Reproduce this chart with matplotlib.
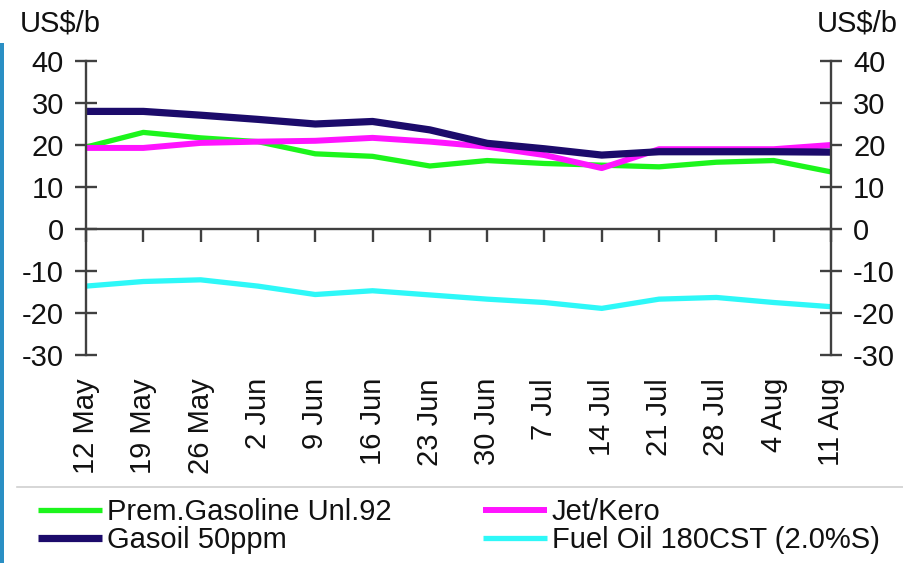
import matplotlib
matplotlib.use('Agg')
from matplotlib import pyplot as plt
from matplotlib.lines import Line2D
from matplotlib.patches import Rectangle

plt.rcParams['font.family'] = ['Liberation Sans', 'DejaVu Sans']

weeks = ['12 May', '19 May', '26 May', '2 Jun', '9 Jun', '16 Jun', '23 Jun',
         '30 Jun', '7 Jul', '14 Jul', '21 Jul', '28 Jul', '4 Aug', '11 Aug']
gasoline = [19.5, 23.0, 21.7, 20.8, 17.9, 17.3, 15.0, 16.3, 15.6, 15.2, 14.8, 15.9, 16.3, 13.6]
jet_kero = [19.3, 19.3, 20.5, 20.8, 21.0, 21.7, 20.8, 19.6, 17.6, 14.5, 19.0, 19.0, 19.0, 20.0]
gasoil = [28.0, 28.0, 27.1, 26.1, 25.0, 25.6, 23.6, 20.4, 19.1, 17.6, 18.4, 18.4, 18.4, 18.3]
fuel_oil = [-13.6, -12.5, -12.1, -13.6, -15.6, -14.7, -15.7, -16.7, -17.5, -18.9, -16.7, -16.3, -17.5, -18.5]
yticks = [40, 30, 20, 10, 0, -10, -20, -30]

fs = 21
axis_col = '#404040'
text_col = '#111111'

fig = plt.figure(figsize=(9.04, 5.63), dpi=100)
ax = fig.add_axes([86/904, 1-355/563, (831-86)/904, (355-61)/563])

x = list(range(len(weeks)))
l_fuel, = ax.plot(x, fuel_oil, c='#2ef8f8', linewidth=3.8, solid_capstyle='butt')
l_gas, = ax.plot(x, gasoline, c='#1cf51c', linewidth=3.8, solid_capstyle='butt')
l_jet, = ax.plot(x, jet_kero, c='#ff14ff', linewidth=4.3, solid_capstyle='butt')
l_go, = ax.plot(x, gasoil, c='#1c0b6b', linewidth=5.2, solid_capstyle='butt')

ax.set_xlim(0, len(weeks) - 1)
ax.set_ylim(-30, 40)
ax.set_yticks(yticks)
ax.set_yticklabels([str(v) for v in yticks])

ax.spines['top'].set_visible(False)
ax.spines['bottom'].set_position(('data', 0))
for s in ['left', 'right', 'bottom']:
    ax.spines[s].set_color(axis_col)
    ax.spines[s].set_linewidth(1.7)

ax.tick_params(axis='y', which='major', direction='inout', length=16, width=1.7,
               color=axis_col, labelsize=fs, labelcolor=text_col, pad=8,
               left=True, right=True, labelleft=True, labelright=True)
ax.set_xticks(x)
ax.tick_params(axis='x', which='major', direction='out', length=9.5, width=1.7,
               color=axis_col, labelbottom=False)

for i, w in enumerate(weeks):
    ax.text(i, -23/294, w, transform=ax.get_xaxis_transform(), rotation=90,
            ha='center', va='top', fontsize=fs, color=text_col)

fig.text(20/904, 1-23/563, 'US$/b', ha='left', va='center', fontsize=fs, color=text_col)
fig.text(898/904, 1-23/563, 'US$/b', ha='right', va='center', fontsize=fs, color=text_col)

# legend below the chart
fig.add_artist(Line2D([17/904, 1], [1-487/563, 1-487/563], color='#d0d0d0', linewidth=1.2))
leg_y = 1 - 526/563
leg1 = fig.legend([l_gas, l_go], ['Prem.Gasoline Unl.92', 'Gasoil 50ppm'],
                  loc='center left', bbox_to_anchor=(38/904, leg_y), frameon=False,
                  fontsize=fs, handlelength=2.2, handletextpad=0.15, labelspacing=0.0,
                  borderpad=0, borderaxespad=0)
for t in leg1.get_texts():
    t.set_color(text_col)
leg2 = fig.legend([l_jet, l_fuel], ['Jet/Kero', 'Fuel Oil 180CST (2.0%S)'],
                  loc='center left', bbox_to_anchor=(483/904, leg_y), frameon=False,
                  fontsize=fs, handlelength=2.2, handletextpad=0.15, labelspacing=0.0,
                  borderpad=0, borderaxespad=0)
for t in leg2.get_texts():
    t.set_color(text_col)

fig.add_artist(Rectangle((0, 0), 4/904, 1-43/563, transform=fig.transFigure,
                         color='#2a8fc4', linewidth=0))

plt.savefig('out.png', dpi=100)
